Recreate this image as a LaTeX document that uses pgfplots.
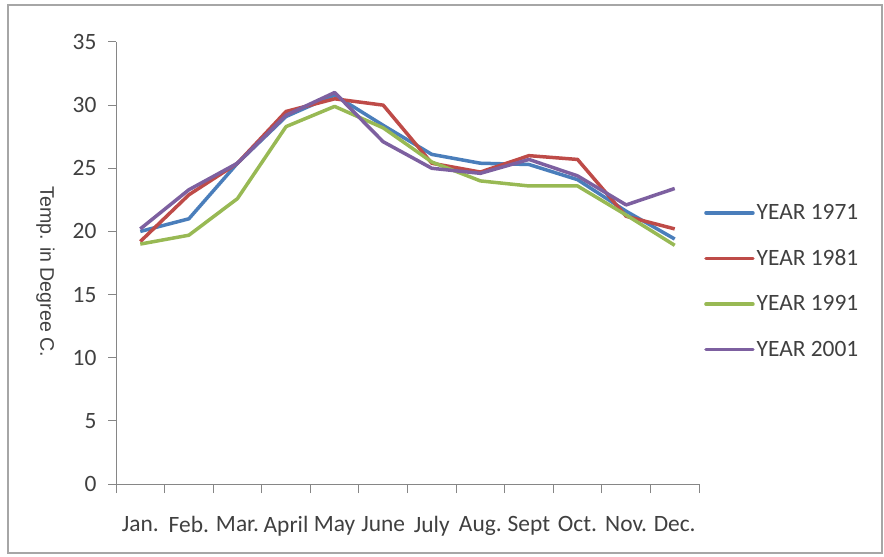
\documentclass[border=0pt]{standalone}
\usepackage{pgfplots}
\pgfplotsset{compat=1.18}
\usepackage{fontspec}
\setmainfont{Carlito}
\newfontfamily\labelfont{Liberation Sans}
\definecolor{c1}{HTML}{4A7EBB}
\definecolor{c2}{HTML}{BE4B48}
\definecolor{c3}{HTML}{98B954}
\definecolor{c4}{HTML}{7D60A0}
\definecolor{axc}{HTML}{868686}
\definecolor{txt}{HTML}{404040}
\begin{document}
\begin{tikzpicture}
\useasboundingbox (0bp,0bp) rectangle (884bp,557bp);
\draw[color=gray!70, line width=1.5bp] (8bp,4bp) rectangle (882bp,552bp);
\begin{axis}[at={(116bp,73bp)}, anchor=south west, scale only axis,
  width=583bp, height=442bp,
  xmin=0.5, xmax=12.5, ymin=0, ymax=35,
  axis x line=bottom, axis y line=left,
  axis line style={axc, line width=1bp, -},
  every tick/.style={axc, line width=1bp},
  tick align=outside,
  major tick length=8bp, minor tick length=9bp,
  xtick={1,...,12},
  xticklabels={Jan.,Feb.,Mar.,April,May,June,July,Aug.,Sept,Oct.,Nov.,Dec.},
  every major x tick/.style={draw=none},
  minor xtick={0.5,1.5,...,12.5},
  ytick={0,5,...,35},
  tick label style={font=\fontsize{23.5}{28}\selectfont, text=txt},
  xticklabel style={yshift=-21bp},
  yticklabel style={xshift=-8bp},
  /pgf/number format/assume math mode=true,
  ylabel={Temp. in Degree C.},
  ylabel style={at={(axis description cs:-0.121,0.48)}, rotate=180, anchor=center, font=\labelfont\fontsize{19.7}{24}\selectfont, text=txt},
  legend style={at={(axis description cs:1.0086,0.637)}, anchor=north west, draw=none, fill=none,
    font=\fontsize{23.5}{28}\selectfont, text=txt, row sep=24.5bp, inner sep=0pt},
  legend cell align=left,
  legend image code/.code={\draw[#1, line cap=round] (0bp,0bp) -- (47bp,0bp);},
  every axis plot/.append style={line width=3.5bp, line join=round},
]
\addplot[c1] coordinates {(1,20.0) (2,21.0) (3,25.4) (4,29.1) (5,30.8) (6,28.4) (7,26.1) (8,25.4) (9,25.3) (10,24.1) (11,21.6) (12,19.4)};
\addlegendentry{YEAR 1971}
\addplot[c2] coordinates {(1,19.2) (2,22.9) (3,25.4) (4,29.5) (5,30.5) (6,30.0) (7,25.4) (8,24.7) (9,26.0) (10,25.7) (11,21.2) (12,20.2)};
\addlegendentry{YEAR 1981}
\addplot[c3] coordinates {(1,19.0) (2,19.7) (3,22.6) (4,28.3) (5,29.9) (6,28.2) (7,25.5) (8,24.0) (9,23.6) (10,23.6) (11,21.3) (12,18.9)};
\addlegendentry{YEAR 1991}
\addplot[c4] coordinates {(1,20.2) (2,23.3) (3,25.4) (4,29.2) (5,31.0) (6,27.1) (7,25.0) (8,24.6) (9,25.7) (10,24.4) (11,22.1) (12,23.4)};
\addlegendentry{YEAR 2001}
\end{axis}
\end{tikzpicture}
\end{document}
